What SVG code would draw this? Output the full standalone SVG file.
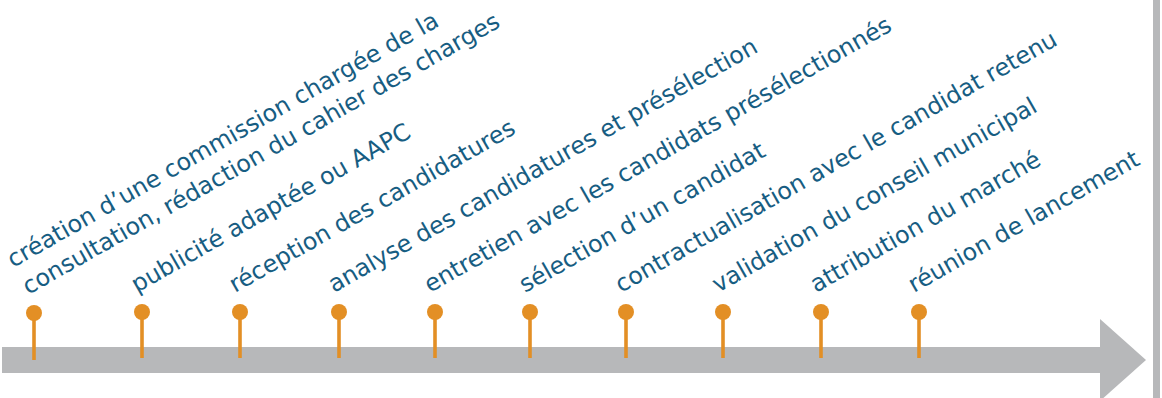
<svg xmlns="http://www.w3.org/2000/svg" width="1162" height="398" viewBox="0 0 1162 398">
<style>
.lbl{font-family:"DejaVu Sans","Verdana",sans-serif;font-size:23.8px;fill:#175d82}
.pin circle{fill:#e38f25}
.pin line{stroke:#e38f25;stroke-width:3.6}
</style>
<rect x="0" y="0" width="1162" height="398" fill="#ffffff"/>
<g id="axis">
<rect x="2" y="347" width="1099" height="26" fill="#b7b8ba"/>
<polygon points="1100,319 1146,360 1100,401" fill="#b7b8ba"/>
<rect x="1153" y="0" width="7" height="398" fill="#b7b8ba"/>
</g>
<g id="connectors">
<g class="pin"><line x1="34" y1="313" x2="34" y2="360"/><circle cx="34" cy="313" r="8"/></g>
<g class="pin"><line x1="142" y1="312" x2="142" y2="358"/><circle cx="142" cy="312" r="8"/></g>
<g class="pin"><line x1="240" y1="312" x2="240" y2="358"/><circle cx="240" cy="312" r="8"/></g>
<g class="pin"><line x1="339" y1="312" x2="339" y2="358"/><circle cx="339" cy="312" r="8"/></g>
<g class="pin"><line x1="435" y1="312" x2="435" y2="358"/><circle cx="435" cy="312" r="8"/></g>
<g class="pin"><line x1="530" y1="312" x2="530" y2="358"/><circle cx="530" cy="312" r="8"/></g>
<g class="pin"><line x1="626" y1="312" x2="626" y2="358"/><circle cx="626" cy="312" r="8"/></g>
<g class="pin"><line x1="723" y1="312" x2="723" y2="358"/><circle cx="723" cy="312" r="8"/></g>
<g class="pin"><line x1="821" y1="312" x2="821" y2="358"/><circle cx="821" cy="312" r="8"/></g>
<g class="pin"><line x1="919" y1="312" x2="919" y2="358"/><circle cx="919" cy="312" r="8"/></g>
</g>
<g id="n1"><text class="lbl" transform="translate(13,268) rotate(-29.6)"><tspan x="0" y="0">création d’une commission chargée de la</tspan><tspan x="0" y="31">consultation, rédaction du cahier des charges</tspan></text></g>
<g id="n2"><text class="lbl" transform="translate(137,293) rotate(-29.6)">publicité adaptée ou AAPC</text></g>
<g id="n3"><text class="lbl" transform="translate(235,293) rotate(-29.6)">réception des candidatures</text></g>
<g id="n4"><text class="lbl" transform="translate(334,293) rotate(-29.6)">analyse des candidatures et présélection</text></g>
<g id="n5"><text class="lbl" transform="translate(430,293) rotate(-29.6)">entretien avec les candidats présélectionnés</text></g>
<g id="n6"><text class="lbl" transform="translate(525,293) rotate(-29.6)">sélection d’un candidat</text></g>
<g id="n7"><text class="lbl" transform="translate(621,293) rotate(-29.6)">contractualisation avec le candidat retenu</text></g>
<g id="n8"><text class="lbl" transform="translate(718,293) rotate(-29.6)">validation du conseil municipal</text></g>
<g id="n9"><text class="lbl" transform="translate(816,293) rotate(-29.6)">attribution du marché</text></g>
<g id="n10"><text class="lbl" transform="translate(914,293) rotate(-29.6)">réunion de lancement</text></g>
</svg>
